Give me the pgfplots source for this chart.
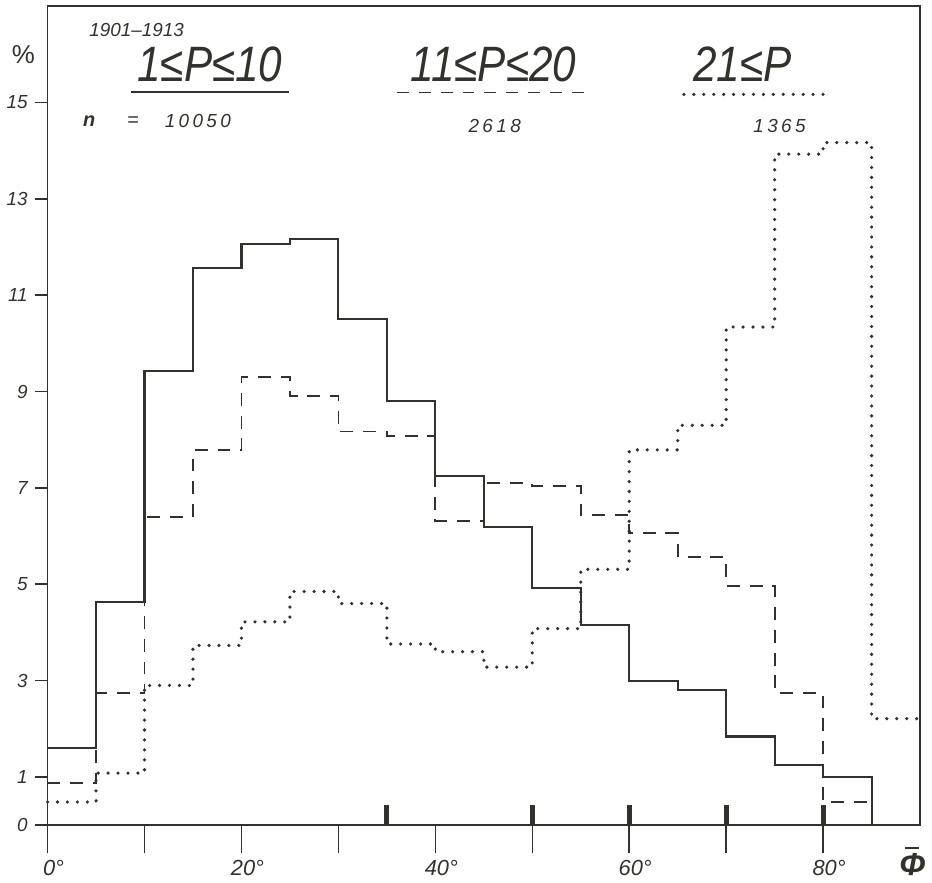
\documentclass[border=0pt]{standalone}
\usepackage{fontspec}
\setmainfont{Liberation Sans}
\newfontfamily\spaced[LetterSpace=18]{Liberation Sans}
\usepackage{graphicx}
\usepackage{pgfplots}
\pgfplotsset{compat=1.18}
\definecolor{ink}{RGB}{50,50,45}

\pgfplotstableread{
x y
0 1.60
5 4.64
10 9.43
15 11.56
20 12.06
25 12.16
30 10.51
35 8.80
40 7.24
45 6.19
50 4.93
55 4.16
60 3.00
65 2.81
70 1.84
75 1.24
80 1.00
85 0
}\solid
\pgfplotstableread{
x y
0 0.87
5 2.75
10 6.39
15 7.78
20 9.31
25 8.91
30 8.17
35 8.08
40 6.32
45 7.11
50 7.04
55 6.44
60 6.06
65 5.57
70 4.96
75 2.74
80 0.48
85 0
}\dashedtab
\pgfplotstableread{
x y
0 0.48
5 1.08
10 2.90
15 3.73
20 4.22
25 4.85
30 4.60
35 3.76
40 3.60
45 3.28
50 4.08
55 5.31
60 7.79
65 8.30
70 10.34
75 13.93
80 14.17
85 2.21
90 2.21
}\dottedtab

\begin{document}
\begin{tikzpicture}
\begin{axis}[
  scale only axis, width=439pt, height=412pt,
  xmin=0, xmax=90, ymin=0, ymax=17,
  clip=false,
  axis line style={ink, line width=0.8pt},
  tick style={ink, line width=0.8pt},
  tick align=outside,
  major tick length=6.5pt,
  xtick pos=bottom, ytick pos=left,
  xtick=\empty,
  extra x ticks={0,10,20,30,40,50,60,70,80},
  extra x tick labels={0°,,20°,,40°,,60°,,80°},
  extra x tick style={major tick length=14pt, tick style={ink, line width=0.8pt}},
  xticklabel style={font=\fontsize{11}{13}\selectfont\itshape, text=ink, xshift=3pt},
  ytick={0,1,3,5,7,9,11,13,15},
  yticklabel style={font=\fontsize{9.5}{11}\selectfont\itshape, text=ink},
  /pgf/number format/assume math mode=true,
]
\addplot[ink, line width=1.1pt, const plot, no marks] table {\solid};
\addplot[ink, line width=0.9pt, const plot, no marks, dash pattern=on 6.5pt off 5pt] table {\dashedtab};
\addplot[ink, line width=1.8pt, const plot, no marks, line cap=round, dash pattern=on 0pt off 5pt] table {\dottedtab};
\addplot[ink, line width=2.5pt, ycomb, no marks] coordinates {(35,0.42) (50,0.42) (60,0.42) (70,0.42) (80,0.42)};

% texts
\node[text=ink, font=\fontsize{13}{15}\selectfont] at (axis cs:-2.5,15.99) {\%};
\node[text=ink, anchor=west, font=\fontsize{9.5}{11}\selectfont\itshape] at (axis cs:3.6,16.51) {1901–1913};
\node[text=ink, font=\fontsize{25}{28}\selectfont\itshape] at (axis cs:16.74,15.79) {\scalebox{0.85}[1]{1≤P≤10}};
\node[text=ink, font=\fontsize{25}{28}\selectfont\itshape] at (axis cs:46.0,15.79) {\scalebox{0.85}[1]{11≤P≤20}};
\node[text=ink, font=\fontsize{25}{28}\selectfont\itshape] at (axis cs:71.7,15.79) {\scalebox{0.85}[1]{21≤P}};
\draw[ink, line width=1.1pt] (axis cs:8.61,15.22) -- (axis cs:24.87,15.22);
\draw[ink, line width=0.9pt, dash pattern=on 6pt off 5pt] (axis cs:36.04,15.21) -- (axis cs:55.57,15.21);
\draw[ink, line width=1.8pt, line cap=round, dash pattern=on 0pt off 5pt] (axis cs:65.64,15.17) -- (axis cs:80.75,15.17);
\node[text=ink, font=\fontsize{10}{12}\selectfont\itshape\bfseries] at (axis cs:4.29,14.61) {n};
\node[text=ink, font=\fontsize{10}{12}\selectfont\itshape] at (axis cs:8.81,14.61) {=};
\node[text=ink, font=\fontsize{9.5}{12}\selectfont\spaced\itshape] at (axis cs:15.5,14.61) {10050};
\node[text=ink, font=\fontsize{9.5}{12}\selectfont\spaced\itshape] at (axis cs:46.12,14.52) {2618};
\node[text=ink, font=\fontsize{9.5}{12}\selectfont\spaced\itshape] at (axis cs:75.5,14.52) {1365};
\node[text=ink, inner sep=0pt, font=\fontsize{16}{16}\selectfont\itshape\bfseries] at (axis cs:89.2,-0.75) {\shortstack{\rule{7pt}{1.2pt}\\[-1pt]Φ}};
\path (axis cs:-4.55,-1.12) rectangle (axis cs:91.23,17.13);
\end{axis}
\end{tikzpicture}
\end{document}
